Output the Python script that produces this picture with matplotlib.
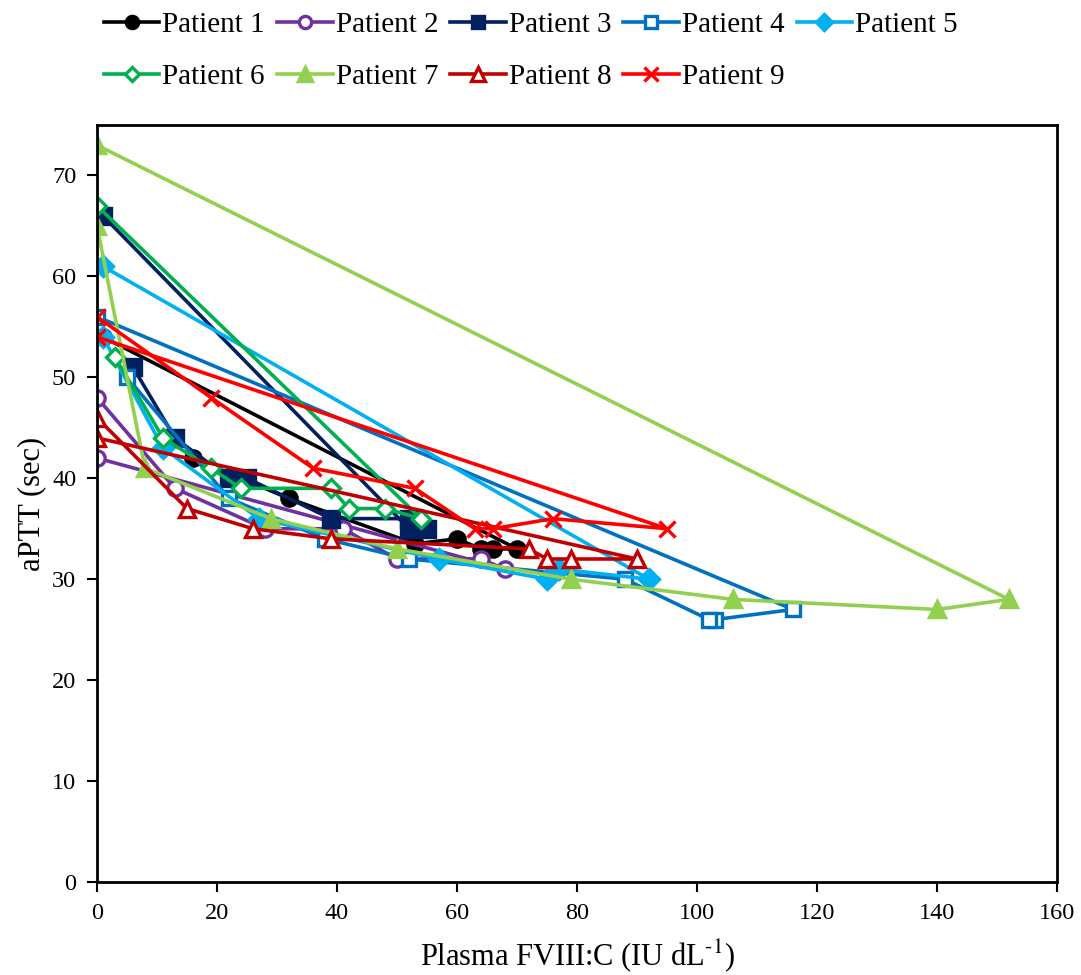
import numpy as np
import matplotlib
matplotlib.use('Agg')
import matplotlib.pyplot as plt

# data: FVIII:C (IU/dL) vs aPTT (sec), in sampling order
p1_x = [1, 70, 66, 64, 60, 53, 32, 16]
p1_y = [54, 33, 33, 33, 34, 33.5, 38, 42]
p2_x = [0, 68, 64, 50, 41, 28, 13, 0]
p2_y = [42, 31, 32, 32, 35, 35, 39, 48]
p3_x = [1, 52, 55, 52, 39, 25, 22, 13, 6]
p3_y = [66, 35, 35, 36, 36, 40, 40, 44, 51]
p4_x = [0, 116, 103, 102, 88, 52, 38, 22, 5]
p4_y = [56, 27, 26, 26, 30, 32, 34, 38, 50]
p5_x = [1, 92, 77, 75, 57, 27, 11, 1]
p5_y = [61, 30, 31, 30, 32, 36, 43, 54]
p6_x = [0, 54, 48, 42, 39, 24, 19, 11, 3]
p6_y = [67, 36, 37, 37, 39, 39, 41, 44, 52]
p7_x = [0, 152, 140, 106, 79, 50, 29, 8, 0]
p7_y = [73, 28, 27, 28, 30, 33, 36, 41, 65]
p8_x = [0, 90, 79, 75, 72, 39, 26, 15, 0]
p8_y = [44, 32, 32, 32, 33, 34, 35, 37, 46]
p9_x = [0, 95, 76, 66, 63, 53, 36, 19, 0]
p9_y = [54, 35, 36, 35, 35, 39, 41, 48, 56]

names = ['Patient %d' % i for i in range(1, 10)]
xs = [p1_x, p2_x, p3_x, p4_x, p5_x, p6_x, p7_x, p8_x, p9_x]
ys = [p1_y, p2_y, p3_y, p4_y, p5_y, p6_y, p7_y, p8_y, p9_y]

colors = ['#000000', '#7030A0', '#002060', '#0070C0', '#00B0F0',
          '#00B050', '#92D050', '#C00000', '#FF0000']
markers = ['o', 'o', 's', 's', 'D', 'D', '^', '^', 'x']
filled = [True, False, True, False, True, False, True, False, True]
msizes = [11, 11, 11, 10, 10, 9.5, 12, 12, 12]

plt.rcParams['font.family'] = ['Liberation Serif', 'DejaVu Serif']
plt.rcParams['mathtext.fontset'] = 'stix'

fig = plt.figure(figsize=(10.81, 9.75), dpi=100)
ax = fig.add_axes([0.0897, 0.0954, 0.8881, 0.7764])

handles = []
for x, y, c, m, f, ms, n in zip(xs, ys, colors, markers, filled, msizes, names):
    h, = ax.plot(x, y, color=c, lw=2.6, marker=m, ms=ms,
                 mfc=c if f else 'white', mec=c, mew=2.4, label=n)
    handles.append(h)

ax.set_xlim(0, 160)
ax.set_ylim(0, 75)
ax.set_xticks(np.arange(0, 161, 20))
ax.set_yticks(np.arange(0, 71, 10))
ax.tick_params(direction='out', length=7, width=1.5, labelsize=17.5, pad=8)
for s in ax.spines.values():
    s.set_linewidth(2)

ax.set_xlabel(r'Plasma FVIII:C (IU dL$^{\text{-1}}$)', fontsize=22, labelpad=10)
ax.set_ylabel('aPTT (sec)', fontsize=22, labelpad=4)

# legend fills column-wise, so interleave rows
order = [0, 5, 1, 6, 2, 7, 3, 8, 4]
fig.legend([handles[i] for i in order], [names[i] for i in order],
           loc='upper left', bbox_to_anchor=(0.08, 1.006), ncol=5, frameon=False,
           fontsize=21, handlelength=1.9, handletextpad=0.1, columnspacing=0.42,
           labelspacing=0.88, borderaxespad=0.2, markerscale=0.8)

fig.savefig('out.png', dpi=100)
